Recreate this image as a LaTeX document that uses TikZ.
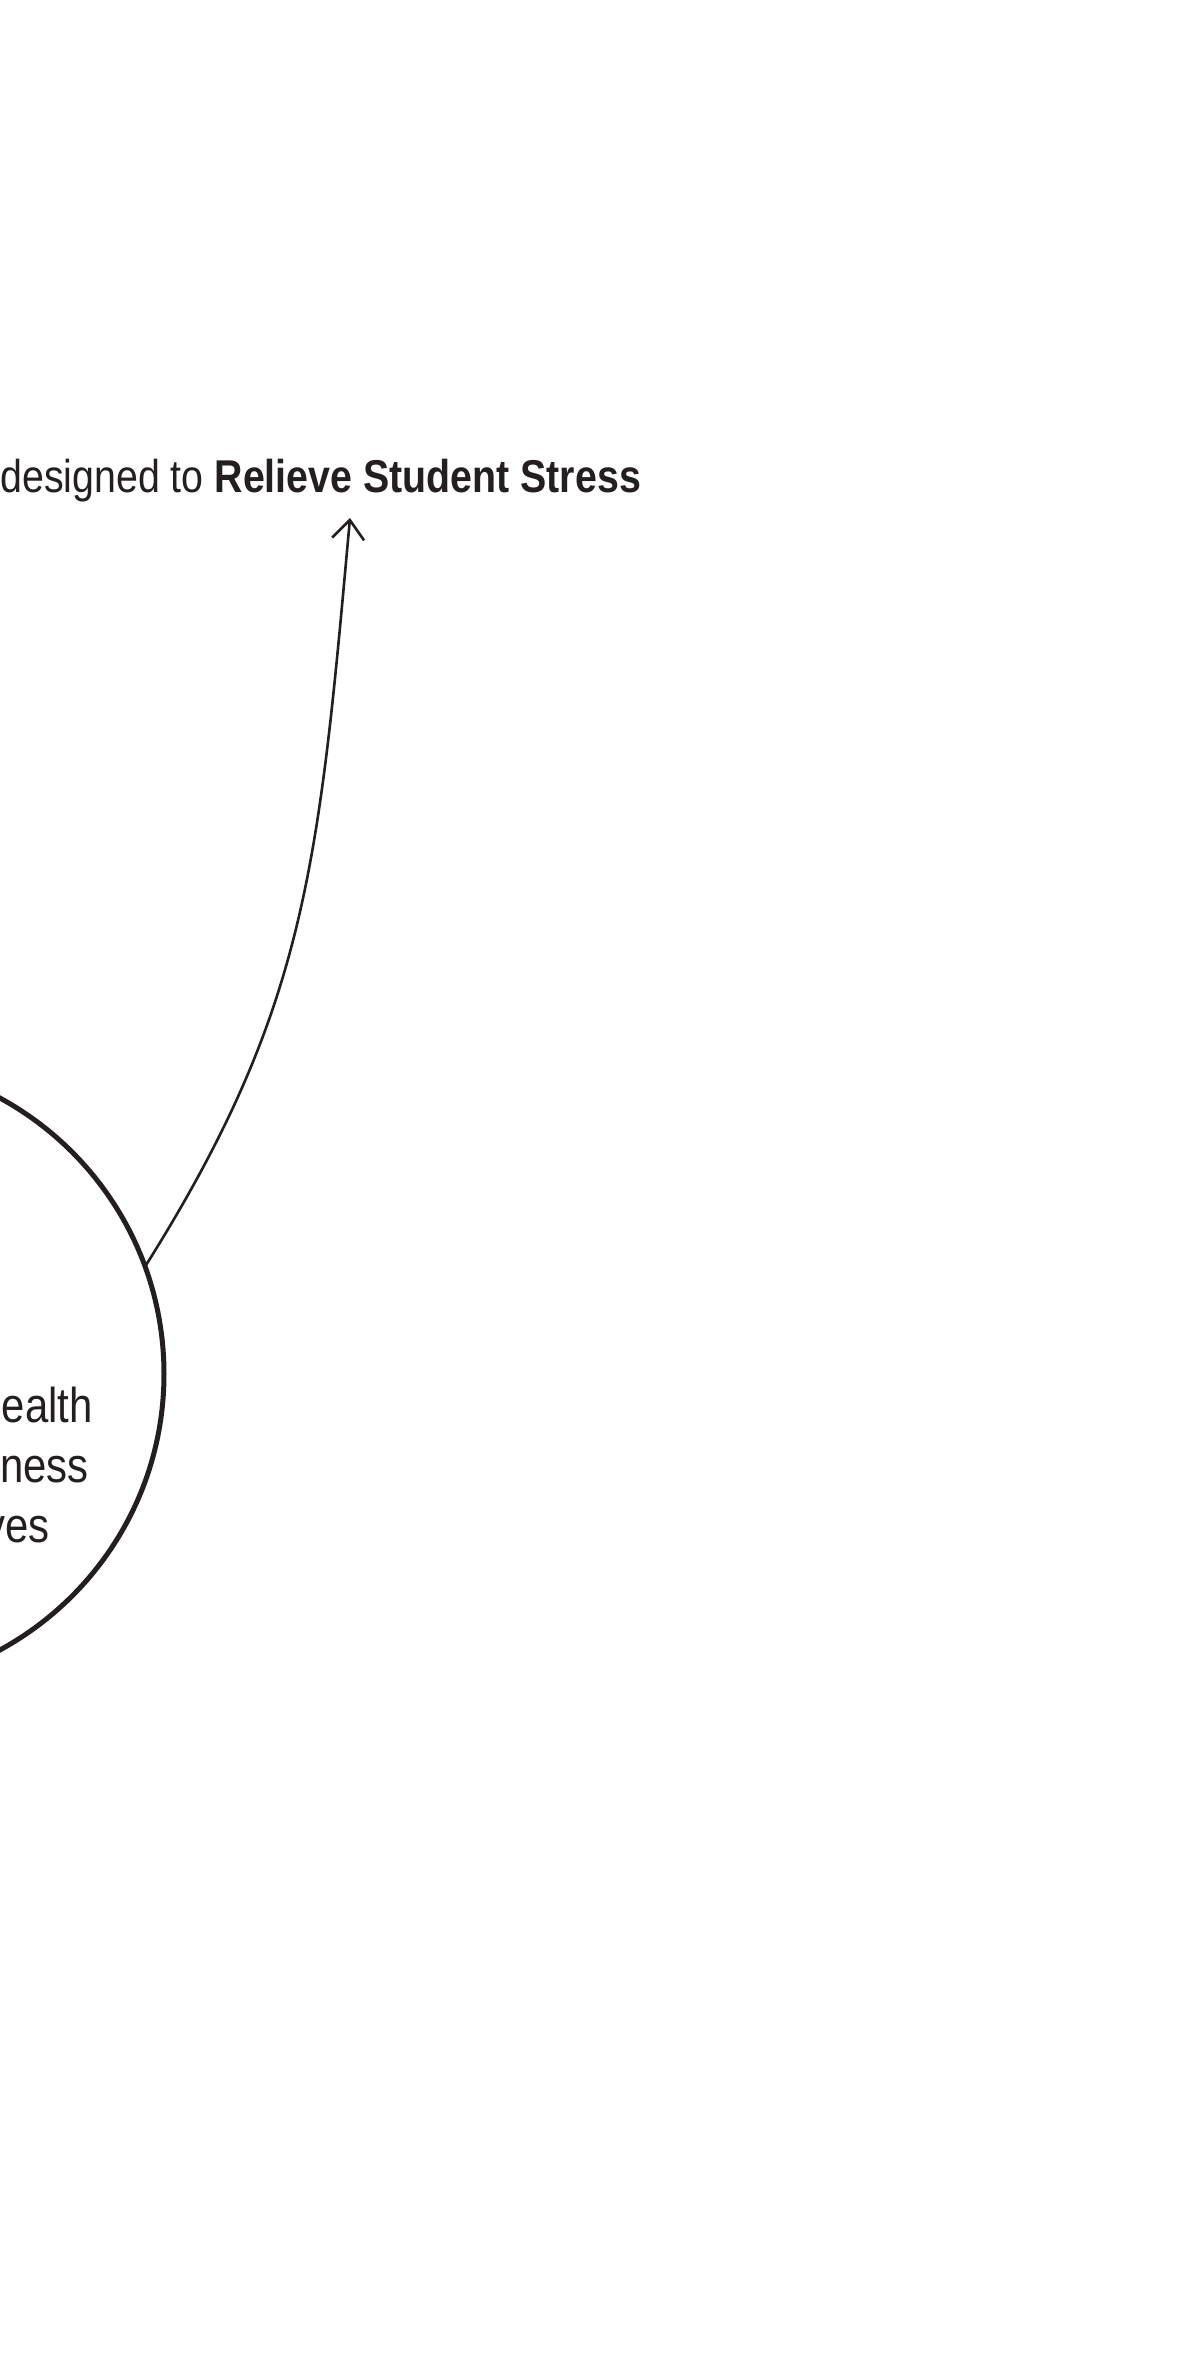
\documentclass[tikz,border=0pt]{standalone}
\usepackage{fontspec}
\setmainfont{Liberation Sans}[FakeStretch=0.855]
\usetikzlibrary{arrows.meta}
\definecolor{ink}{RGB}{35,31,32}
\tikzset{
  px/.style={x=0.5pt,y=-0.5pt},
  toptext/.style={inner sep=0pt, anchor=base west, text=ink, font=\fontsize{23pt}{27pt}\selectfont},
  circtext/.style={inner sep=0pt, anchor=base east, text=ink, font=\fontsize{24.5pt}{30pt}\selectfont},
  bigcircle/.style={circle, draw=ink, line width=2.5pt, minimum size=314pt, inner sep=0pt, outer sep=0pt},
  conn/.style={draw=ink, line width=1.3pt, -{Straight Barb[length=9.5pt,width=16pt,line width=1.3pt]}}
}
\begin{document}
\begin{tikzpicture}[px]
\useasboundingbox (0,0) rectangle (1192,2370);
\fill[white] (0,0) rectangle (1192,2370);
\node[toptext] (goal) at (0,492) {designed to \textbf{Relieve Student Stress}};
\node[bigcircle] (circ) at (-150,1374) {};
\node[circtext] (l1) at (93,1422) {ealth};
\node[circtext] (l2) at (89,1482) {ness};
\node[circtext] (l3) at (50,1542) {ves};
\coordinate (tip) at (350,518);
\draw[conn] (circ.20.7) .. controls (307,1009) and (318.5,867) .. (tip);
\end{tikzpicture}
\end{document}
